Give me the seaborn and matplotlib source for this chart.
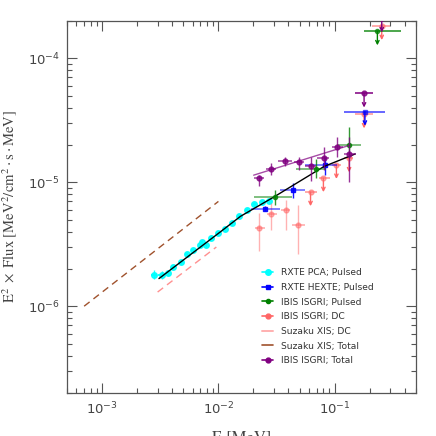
import numpy as np
import pandas as pd
import matplotlib
matplotlib.use('Agg')
import matplotlib.pyplot as plt
import seaborn as sns
from matplotlib.lines import Line2D
from matplotlib.ticker import LogLocator, NullFormatter

# RXTE PCA; Pulsed
pca_e = [2.81e-3, 3.24e-3, 3.66e-3, 4.09e-3, 4.77e-3, 5.33e-3, 6.00e-3, 6.95e-3, 7.18e-3, 7.77e-3,
         8.65e-3, 9.86e-3, 1.14e-2, 1.30e-2, 1.51e-2, 1.75e-2, 2.04e-2, 2.39e-2, 2.70e-2]
pca_de = [1.7e-4, 1.9e-4, 1.2e-4, 1.3e-4, 1.5e-4, 1.6e-4, 1.8e-4, 2.0e-4, 2.1e-4, 2.3e-4,
          2.5e-4, 2.9e-4, 3.3e-4, 3.8e-4, 4.4e-4, 5.1e-4, 6.0e-4, 7.0e-4, 8.0e-4]
pca_f = [1.80e-6, 1.80e-6, 1.85e-6, 2.06e-6, 2.27e-6, 2.63e-6, 2.83e-6, 3.13e-6, 3.28e-6, 3.13e-6,
         3.58e-6, 3.91e-6, 4.21e-6, 4.67e-6, 5.38e-6, 5.98e-6, 6.64e-6, 6.91e-6, 7.10e-6]
pca_df = [1.5e-7, 1.4e-7, 8e-8, 8e-8, 9e-8, 1.0e-7, 1.1e-7, 1.2e-7, 1.3e-7, 1.2e-7,
          1.4e-7, 1.5e-7, 1.6e-7, 1.8e-7, 2.1e-7, 2.3e-7, 2.6e-7, 2.7e-7, 2.8e-7]

# RXTE HEXTE; Pulsed
hexte_e = [2.54e-2, 4.38e-2, 8.24e-2]
hexte_elo = [1.89e-2, 3.42e-2, 5.55e-2]
hexte_ehi = [3.37e-2, 5.51e-2, 0.105]
hexte_f = [6.12e-6, 8.59e-6, 1.38e-5]
hexte_flo = [5.85e-6, 7.46e-6, 1.15e-5]
hexte_fhi = [6.40e-6, 9.86e-6, 1.61e-5]
hexte_ul_e = [0.182]
hexte_ul_elo = [0.120]
hexte_ul_ehi = [0.270]
hexte_ul_f = [3.71e-5]

# IBIS ISGRI; Pulsed
pul_e = [3.06e-2, 6.86e-2, 0.133]
pul_elo = [2.01e-2, 4.61e-2, 0.105]
pul_ehi = [4.32e-2, 8.47e-2, 0.168]
pul_f = [7.6e-6, 1.28e-5, 2.0e-5]
pul_flo = [6.59e-6, 1.08e-5, 1.61e-5]
pul_fhi = [8.71e-6, 1.54e-5, 2.77e-5]
pul_ul_e = [0.233]
pul_ul_elo = [0.177]
pul_ul_ehi = [0.371]
pul_ul_f = [1.65e-4]

# IBIS ISGRI; DC
dc_e = [2.25e-2, 2.86e-2, 3.78e-2, 4.87e-2]
dc_elo = [2.06e-2, 2.63e-2, 3.45e-2, 4.26e-2]
dc_ehi = [2.51e-2, 3.21e-2, 4.15e-2, 5.51e-2]
dc_f = [4.28e-6, 5.56e-6, 6.01e-6, 4.48e-6]
dc_flo = [2.78e-6, 4.15e-6, 4.15e-6, 2.62e-6]
dc_fhi = [5.66e-6, 6.81e-6, 7.23e-6, 6.59e-6]
dc_ul_e = [6.2e-2, 8.0e-2, 0.1035, 0.133, 0.179, 0.254]
dc_ul_elo = [5.51e-2, 7.4e-2, 0.095, 0.12, 0.151, 0.21]
dc_ul_ehi = [7.06e-2, 9.1e-2, 0.113, 0.145, 0.215, 0.30]
dc_ul_f = [8.32e-6, 1.08e-5, 1.38e-5, 1.56e-5, 3.53e-5, 1.82e-4]

# IBIS ISGRI; Total
tot_e = [2.25e-2, 2.86e-2, 3.73e-2, 4.92e-2, 6.2e-2, 8.09e-2, 0.104, 0.133]
tot_elo = [2.01e-2, 2.58e-2, 3.25e-2, 4.45e-2, 5.51e-2, 7.1e-2, 0.094, 0.12]
tot_ehi = [2.49e-2, 3.15e-2, 4.32e-2, 5.43e-2, 6.96e-2, 9.0e-2, 0.117, 0.154]
tot_f = [1.08e-5, 1.29e-5, 1.47e-5, 1.45e-5, 1.34e-5, 1.58e-5, 1.94e-5, 1.69e-5]
tot_flo = [9.33e-6, 1.15e-5, 1.34e-5, 1.26e-5, 1.03e-5, 1.26e-5, 1.61e-5, 1.0e-5]
tot_fhi = [1.15e-5, 1.43e-5, 1.61e-5, 1.61e-5, 1.61e-5, 1.94e-5, 2.33e-5, 2.33e-5]
tot_ul_e = [0.179, 0.254]
tot_ul_elo = [0.151, 0.21]
tot_ul_ehi = [0.215, 0.30]
tot_ul_f = [5.20e-5, 2.1e-4]

# model curves
tot_fit_e = [2.01e-2, 0.133]
tot_fit_f = [1.14e-5, 1.98e-5]
suz_dc_e = [3.0e-3, 9.6e-3]
suz_dc_f = [1.30e-6, 3.0e-6]
suz_tot_e = [7.0e-4, 1.0e-2]
suz_tot_f = [1.0e-6, 7.0e-6]
pulse_fit_e = [3.08e-3, 1.03e-2, 1.55e-2, 3.0e-2, 8.1e-2, 0.150]
pulse_fit_f = [1.67e-6, 3.95e-6, 5.31e-6, 7.6e-6, 1.34e-5, 1.69e-5]

C_PCA = '#00ffff'
C_HEXTE = '#0000ff'
C_PUL = '#008000'
C_DC = '#ff6666'
C_SUZDC = '#ff9090'
C_SUZTOT = '#a0522d'
C_TOT = '#800080'
UL_FACTOR = 0.77


def asym(v, lo, hi):
    v, lo, hi = np.array(v), np.array(lo), np.array(hi)
    return [v - lo, hi - v]


def puntos(ax, e, elo, ehi, f, flo, fhi, color, marker, ms, xalpha, yalpha, z):
    ax.errorbar(e, f, xerr=asym(e, elo, ehi), fmt='none', ecolor=color,
                alpha=xalpha, lw=1.4, zorder=z)
    ax.errorbar(e, f, yerr=asym(f, flo, fhi), fmt=marker, color=color, ms=ms,
                ecolor=color, alpha=yalpha, lw=1.0, mec=color, zorder=z + 0.1)


def limites(ax, e, elo, ehi, f, color, marker, ms, xalpha, z):
    ax.errorbar(e, f, xerr=asym(e, elo, ehi), fmt=marker, color=color, ms=ms,
                ecolor=color, alpha=xalpha, lw=1.4, zorder=z)
    for xi, yi in zip(e, f):
        ann = ax.annotate('', xy=(xi, yi * UL_FACTOR), xytext=(xi, yi),
                          arrowprops=dict(arrowstyle='->', color=color, lw=1.0,
                                          shrinkA=0, shrinkB=0, mutation_scale=6),
                          annotation_clip=False, zorder=z)
        ann.arrow_patch.set_clip_box(ax.bbox)
        ann.arrow_patch.set_clip_on(True)


sns.set_style('ticks')
plt.rcParams['font.family'] = ['DejaVu Sans']
plt.rcParams['mathtext.fontset'] = 'dejavusans'

fig = plt.figure(figsize=(4.36, 4.36), dpi=100)
ax = fig.add_axes([0.154, 0.099, 0.800, 0.853])
ax.set_xscale('log')
ax.set_yscale('log')

# lineas de modelos
sns.lineplot(x=suz_tot_e, y=suz_tot_f, ax=ax, color=C_SUZTOT, lw=1.0,
             sort=False, estimator=None, zorder=2).lines[-1].set_dashes((5, 3.5))
sns.lineplot(x=suz_dc_e, y=suz_dc_f, ax=ax, color=C_SUZDC, lw=1.0,
             sort=False, estimator=None, zorder=2).lines[-1].set_dashes((5, 3.5))

puntos(ax, pca_e, np.array(pca_e) - np.array(pca_de), np.array(pca_e) + np.array(pca_de),
       pca_f, np.array(pca_f) - np.array(pca_df), np.array(pca_f) + np.array(pca_df),
       C_PCA, 'o', 4.0, 0.9, 0.9, 3)

sns.lineplot(x=pulse_fit_e, y=pulse_fit_f, ax=ax, color='black', lw=1.0,
             sort=False, estimator=None, zorder=6)

puntos(ax, dc_e, dc_elo, dc_ehi, dc_f, dc_flo, dc_fhi, C_DC, 'o', 3.5, 0.45, 0.5, 4)
limites(ax, dc_ul_e, dc_ul_elo, dc_ul_ehi, dc_ul_f, C_DC, 'o', 3.5, 0.55, 4)
puntos(ax, hexte_e, hexte_elo, hexte_ehi, hexte_f, hexte_flo, hexte_fhi,
       C_HEXTE, 's', 3.5, 0.5, 0.9, 5)
limites(ax, hexte_ul_e, hexte_ul_elo, hexte_ul_ehi, hexte_ul_f, C_HEXTE, 's', 3.5, 0.6, 5)
puntos(ax, pul_e, pul_elo, pul_ehi, pul_f, pul_flo, pul_fhi, C_PUL, 'o', 3.0, 0.5, 0.8, 7)
limites(ax, pul_ul_e, pul_ul_elo, pul_ul_ehi, pul_ul_f, C_PUL, 'o', 3.0, 0.7, 7)
puntos(ax, tot_e, tot_elo, tot_ehi, tot_f, tot_flo, tot_fhi, C_TOT, 'o', 3.5, 0.6, 0.8, 8)
limites(ax, tot_ul_e, tot_ul_elo, tot_ul_ehi, tot_ul_f, C_TOT, 'o', 3.5, 0.8, 8)

sns.lineplot(x=tot_fit_e, y=tot_fit_f, ax=ax, color=C_TOT, lw=1.0, alpha=0.7,
             sort=False, estimator=None, zorder=9)

ax.set_xlim(5e-4, 0.5)
ax.set_ylim(2e-7, 2e-4)

gris = '#555555'
for s in ax.spines.values():
    s.set_visible(True)
    s.set_color(gris)
    s.set_linewidth(0.9)
ax.xaxis.set_major_locator(LogLocator(base=10, numticks=10))
ax.yaxis.set_major_locator(LogLocator(base=10, numticks=10))
ax.xaxis.set_minor_locator(LogLocator(base=10, subs=np.arange(2, 10), numticks=20))
ax.yaxis.set_minor_locator(LogLocator(base=10, subs=np.arange(2, 10), numticks=20))
ax.xaxis.set_minor_formatter(NullFormatter())
ax.yaxis.set_minor_formatter(NullFormatter())
ax.tick_params(which='both', direction='in', top=True, right=True, color=gris,
               labelcolor='#444444', labelsize=9.5, width=0.8)
ax.tick_params(which='major', length=7)
ax.tick_params(which='minor', length=3.5)
ax.tick_params(axis='x', pad=6)
ax.tick_params(axis='y', pad=5)

ax.set_xlabel('E [MeV]', family='STIXGeneral', fontsize=12, color='#444444')
ax.xaxis.set_label_coords(0.5, -0.1)
ax.set_ylabel(r'$\mathrm{E}^2\ \times\ \mathrm{Flux}\ \left[\mathrm{MeV}^2/\mathrm{cm}^2\cdot\mathrm{s}\cdot\mathrm{MeV}\right]$',
              fontsize=10.5, color='#444444', math_fontfamily='stix')
ax.yaxis.set_label_coords(-0.138, 0.5)

handles = [
    Line2D([], [], color=C_PCA, marker='o', ms=4, lw=1.2),
    Line2D([], [], color=C_HEXTE, marker='s', ms=3.5, lw=1.2),
    Line2D([], [], color=C_PUL, marker='o', ms=3, lw=1.2),
    Line2D([], [], color=C_DC, marker='o', ms=3.5, lw=1.2),
    Line2D([], [], color='#ffb0b0', lw=1.4),
    Line2D([], [], color=C_SUZTOT, lw=1.2),
    Line2D([], [], color=C_TOT, marker='o', ms=3.5, lw=1.2),
]
labels = ['RXTE PCA; Pulsed', 'RXTE HEXTE; Pulsed', 'IBIS ISGRI; Pulsed', 'IBIS ISGRI; DC',
          'Suzaku XIS; DC', 'Suzaku XIS; Total', 'IBIS ISGRI; Total']
leg = ax.legend(handles, labels, loc='upper left', bbox_to_anchor=(0.56, 0.335),
                frameon=False, fontsize=6.6, handlelength=1.1, handletextpad=0.9,
                labelspacing=0.62, borderpad=0, borderaxespad=0)
for t in leg.get_texts():
    t.set_color('#333333')

fig.savefig('out.png', dpi=100)
